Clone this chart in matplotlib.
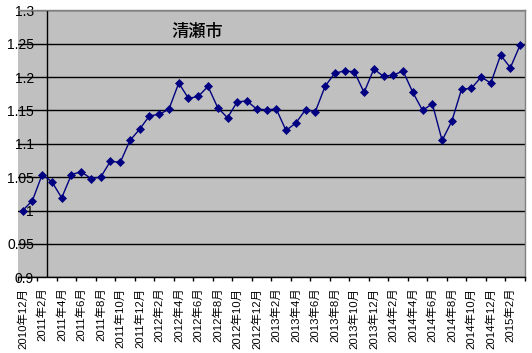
import matplotlib
matplotlib.use("Agg")
import matplotlib.pyplot as plt
import numpy as np

title = "清瀬市"
months = []
y, m = 2010, 12
for _ in range(52):
    months.append(f"{y}年{m}月")
    m += 1
    if m > 12:
        m = 1
        y += 1

values = [1.000, 1.015, 1.054, 1.043, 1.019, 1.054, 1.058, 1.048, 1.050, 1.074,
          1.072, 1.105, 1.122, 1.142, 1.144, 1.152, 1.191, 1.168, 1.171, 1.186,
          1.154, 1.139, 1.163, 1.164, 1.152, 1.151, 1.152, 1.120, 1.131, 1.151,
          1.148, 1.186, 1.206, 1.209, 1.208, 1.177, 1.212, 1.201, 1.203, 1.209,
          1.177, 1.150, 1.160, 1.105, 1.134, 1.182, 1.183, 1.200, 1.191, 1.233,
          1.214, 1.248]
yticks = [0.9, 0.95, 1.0, 1.05, 1.1, 1.15, 1.2, 1.25, 1.3]
ytick_labels = ["0.9", "0.95", "1", "1.05", "1.1", "1.15", "1.2", "1.25", "1.3"]

fam = ["Liberation Sans", "Noto Sans CJK JP"]
plt.rcParams['font.family'] = fam

fig = plt.figure(figsize=(5.32, 3.53), dpi=100)
ax = fig.add_axes([17.8/532, 1-277.3/353, (525-17.8)/532, (277.3-10.3)/353])
ax.set_facecolor("#C0C0C0")

x = np.arange(len(values))
ax.plot(x, values, color="#000080", lw=1, marker="D", markersize=4.4,
        markerfacecolor="#000080", markeredgecolor="#000080", mew=0.5, zorder=3)

ax.set_xlim(-0.5, len(values) - 0.5)
ax.set_ylim(0.9, 1.3)
ax.set_yticks(yticks)
ax.set_yticklabels(ytick_labels, fontsize=10)
ax.tick_params(axis='y', length=0, pad=-11.7)
ax.grid(axis='y', color='black', lw=1, zorder=1)
ax.set_axisbelow(True)

ax.set_xticks(x[::2])
ax.set_xticklabels(months[::2], rotation=90, fontsize=8.2)
ax.set_xticks(np.arange(-0.5, len(values), 2), minor=True)
ax.tick_params(axis='x', which='major', length=0, pad=7.5)
ax.tick_params(axis='x', which='minor', length=3, width=1, direction='out', color='black')

ax.axvline(2.5, color='black', lw=1, zorder=2)

for s in ['top', 'right']:
    ax.spines[s].set_color("#808080")
    ax.spines[s].set_linewidth(1)
ax.spines['left'].set_visible(False)
ax.spines['bottom'].set_color('black')
ax.spines['bottom'].set_linewidth(1)

ax.text(197.5/532, 1-32.3/353, title, transform=fig.transFigure, ha='center', va='center',
        fontsize=12.4, fontweight='medium', family=["Noto Sans CJK JP"])

fig.savefig("out.png", dpi=100, facecolor='white')
